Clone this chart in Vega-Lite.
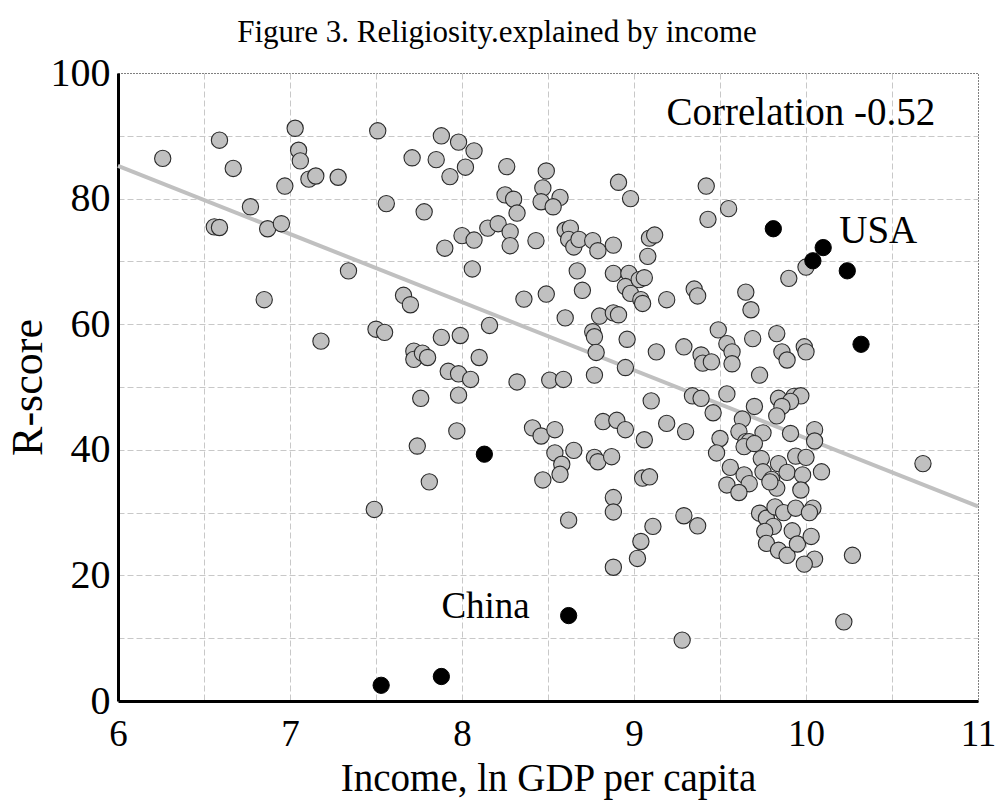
{
  "$schema": "https://vega.github.io/schema/vega-lite/v6.json",
  "width": 860,
  "height": 628,
  "autosize": "none",
  "padding": {"left": 118, "top": 73, "right": 17, "bottom": 99},
  "background": "white",
  "title": {
    "text": "Figure 3. Religiosity.explained by income",
    "font": "Liberation Serif",
    "fontSize": 31,
    "fontWeight": "normal",
    "color": "black",
    "anchor": "middle",
    "frame": "group",
    "dx": -51,
    "offset": 4
  },
  "config": {
    "font": "Liberation Serif",
    "view": {"stroke": "black", "strokeDash": [1, 2], "strokeWidth": 1}
  },
  "datasets": {
    "pts": [
      {"x": 6.26, "y": 86.4, "g": "gray"}, {"x": 6.59, "y": 89.3, "g": "gray"}, {"x": 6.67, "y": 84.8, "g": "gray"},
      {"x": 7.03, "y": 91.2, "g": "gray"}, {"x": 7.05, "y": 87.7, "g": "gray"}, {"x": 7.06, "y": 86.0, "g": "gray"},
      {"x": 7.11, "y": 83.1, "g": "gray"}, {"x": 7.15, "y": 83.6, "g": "gray"}, {"x": 7.28, "y": 83.4, "g": "gray"},
      {"x": 6.97, "y": 82.0, "g": "gray"}, {"x": 6.77, "y": 78.7, "g": "gray"}, {"x": 6.56, "y": 75.5, "g": "gray"},
      {"x": 6.59, "y": 75.4, "g": "gray"}, {"x": 6.87, "y": 75.2, "g": "gray"}, {"x": 6.95, "y": 76.0, "g": "gray"},
      {"x": 7.34, "y": 68.5, "g": "gray"}, {"x": 6.85, "y": 63.9, "g": "gray"}, {"x": 7.18, "y": 57.3, "g": "gray"},
      {"x": 7.51, "y": 90.8, "g": "gray"}, {"x": 7.56, "y": 79.2, "g": "gray"}, {"x": 7.71, "y": 86.5, "g": "gray"},
      {"x": 7.78, "y": 77.9, "g": "gray"}, {"x": 7.88, "y": 90.0, "g": "gray"}, {"x": 7.98, "y": 89.0, "g": "gray"},
      {"x": 8.07, "y": 87.6, "g": "gray"}, {"x": 7.85, "y": 86.2, "g": "gray"}, {"x": 7.93, "y": 83.5, "g": "gray"},
      {"x": 8.02, "y": 85.0, "g": "gray"}, {"x": 8.26, "y": 85.1, "g": "gray"}, {"x": 8.49, "y": 84.4, "g": "gray"},
      {"x": 8.47, "y": 81.7, "g": "gray"}, {"x": 8.46, "y": 79.5, "g": "gray"}, {"x": 8.25, "y": 80.6, "g": "gray"},
      {"x": 8.30, "y": 79.9, "g": "gray"}, {"x": 8.32, "y": 77.7, "g": "gray"}, {"x": 8.00, "y": 74.1, "g": "gray"},
      {"x": 8.07, "y": 73.4, "g": "gray"}, {"x": 8.15, "y": 75.3, "g": "gray"}, {"x": 8.21, "y": 76.0, "g": "gray"},
      {"x": 8.28, "y": 74.7, "g": "gray"}, {"x": 8.28, "y": 72.5, "g": "gray"}, {"x": 8.43, "y": 73.3, "g": "gray"},
      {"x": 7.90, "y": 72.1, "g": "gray"}, {"x": 8.06, "y": 68.8, "g": "gray"}, {"x": 8.36, "y": 64.0, "g": "gray"},
      {"x": 8.49, "y": 64.8, "g": "gray"}, {"x": 7.66, "y": 64.6, "g": "gray"}, {"x": 7.70, "y": 63.1, "g": "gray"},
      {"x": 7.50, "y": 59.2, "g": "gray"}, {"x": 7.55, "y": 58.7, "g": "gray"}, {"x": 7.88, "y": 57.9, "g": "gray"},
      {"x": 7.99, "y": 58.2, "g": "gray"}, {"x": 8.16, "y": 59.8, "g": "gray"}, {"x": 7.72, "y": 55.7, "g": "gray"},
      {"x": 7.72, "y": 54.4, "g": "gray"}, {"x": 7.77, "y": 55.4, "g": "gray"}, {"x": 7.80, "y": 54.7, "g": "gray"},
      {"x": 8.10, "y": 54.7, "g": "gray"}, {"x": 7.92, "y": 52.5, "g": "gray"}, {"x": 7.98, "y": 52.1, "g": "gray"},
      {"x": 8.05, "y": 51.2, "g": "gray"}, {"x": 8.32, "y": 50.8, "g": "gray"}, {"x": 8.51, "y": 51.1, "g": "gray"},
      {"x": 7.76, "y": 48.2, "g": "gray"}, {"x": 7.98, "y": 48.7, "g": "gray"}, {"x": 7.97, "y": 43.0, "g": "gray"},
      {"x": 7.74, "y": 40.6, "g": "gray"}, {"x": 7.81, "y": 34.9, "g": "gray"}, {"x": 7.49, "y": 30.5, "g": "gray"},
      {"x": 8.41, "y": 43.5, "g": "gray"}, {"x": 8.46, "y": 42.2, "g": "gray"}, {"x": 8.54, "y": 39.5, "g": "gray"},
      {"x": 8.47, "y": 35.2, "g": "gray"},
      {"x": 8.57, "y": 80.2, "g": "gray"}, {"x": 8.53, "y": 78.7, "g": "gray"}, {"x": 8.91, "y": 82.6, "g": "gray"},
      {"x": 8.98, "y": 80.0, "g": "gray"}, {"x": 9.42, "y": 82.0, "g": "gray"}, {"x": 9.43, "y": 76.7, "g": "gray"},
      {"x": 9.55, "y": 78.4, "g": "gray"}, {"x": 10.00, "y": 69.1, "g": "gray"}, {"x": 9.90, "y": 67.3, "g": "gray"},
      {"x": 8.60, "y": 75.0, "g": "gray"}, {"x": 8.63, "y": 75.3, "g": "gray"}, {"x": 8.62, "y": 73.5, "g": "gray"},
      {"x": 8.65, "y": 72.3, "g": "gray"}, {"x": 8.68, "y": 73.5, "g": "gray"}, {"x": 8.76, "y": 73.3, "g": "gray"},
      {"x": 8.79, "y": 71.7, "g": "gray"}, {"x": 8.88, "y": 72.6, "g": "gray"}, {"x": 9.09, "y": 73.7, "g": "gray"},
      {"x": 9.12, "y": 74.2, "g": "gray"}, {"x": 9.08, "y": 70.8, "g": "gray"}, {"x": 8.67, "y": 68.5, "g": "gray"},
      {"x": 8.88, "y": 68.1, "g": "gray"}, {"x": 8.97, "y": 68.1, "g": "gray"}, {"x": 8.95, "y": 66.0, "g": "gray"},
      {"x": 9.03, "y": 67.1, "g": "gray"}, {"x": 9.06, "y": 67.4, "g": "gray"}, {"x": 8.98, "y": 64.9, "g": "gray"},
      {"x": 9.04, "y": 63.9, "g": "gray"}, {"x": 9.05, "y": 63.3, "g": "gray"}, {"x": 9.19, "y": 63.9, "g": "gray"},
      {"x": 9.35, "y": 65.6, "g": "gray"}, {"x": 9.37, "y": 64.5, "g": "gray"}, {"x": 9.65, "y": 65.1, "g": "gray"},
      {"x": 9.68, "y": 62.3, "g": "gray"}, {"x": 8.70, "y": 65.4, "g": "gray"}, {"x": 8.60, "y": 61.0, "g": "gray"},
      {"x": 8.80, "y": 61.3, "g": "gray"}, {"x": 8.88, "y": 61.8, "g": "gray"}, {"x": 8.91, "y": 61.5, "g": "gray"},
      {"x": 8.76, "y": 58.8, "g": "gray"}, {"x": 8.77, "y": 58.0, "g": "gray"}, {"x": 8.78, "y": 55.5, "g": "gray"},
      {"x": 8.96, "y": 57.6, "g": "gray"}, {"x": 8.95, "y": 53.1, "g": "gray"}, {"x": 9.13, "y": 55.6, "g": "gray"},
      {"x": 9.29, "y": 56.4, "g": "gray"}, {"x": 9.49, "y": 59.1, "g": "gray"}, {"x": 9.54, "y": 56.9, "g": "gray"},
      {"x": 9.57, "y": 55.6, "g": "gray"}, {"x": 9.57, "y": 53.7, "g": "gray"}, {"x": 9.39, "y": 55.1, "g": "gray"},
      {"x": 9.40, "y": 53.8, "g": "gray"}, {"x": 9.45, "y": 54.0, "g": "gray"}, {"x": 9.69, "y": 57.7, "g": "gray"},
      {"x": 9.83, "y": 58.5, "g": "gray"}, {"x": 9.86, "y": 55.6, "g": "gray"}, {"x": 9.89, "y": 54.3, "g": "gray"},
      {"x": 9.99, "y": 56.4, "g": "gray"}, {"x": 10.00, "y": 55.6, "g": "gray"}, {"x": 8.59, "y": 51.2, "g": "gray"},
      {"x": 8.77, "y": 51.9, "g": "gray"}, {"x": 9.73, "y": 51.9, "g": "gray"},
      {"x": 9.10, "y": 47.8, "g": "gray"}, {"x": 9.34, "y": 48.6, "g": "gray"}, {"x": 9.39, "y": 48.2, "g": "gray"},
      {"x": 9.54, "y": 48.9, "g": "gray"}, {"x": 9.46, "y": 45.9, "g": "gray"}, {"x": 9.70, "y": 46.9, "g": "gray"},
      {"x": 9.63, "y": 44.9, "g": "gray"}, {"x": 9.61, "y": 42.9, "g": "gray"}, {"x": 9.84, "y": 48.2, "g": "gray"},
      {"x": 9.93, "y": 48.5, "g": "gray"}, {"x": 9.97, "y": 48.6, "g": "gray"}, {"x": 9.91, "y": 47.7, "g": "gray"},
      {"x": 9.86, "y": 46.9, "g": "gray"}, {"x": 9.83, "y": 45.4, "g": "gray"}, {"x": 9.75, "y": 42.7, "g": "gray"},
      {"x": 9.91, "y": 42.6, "g": "gray"}, {"x": 10.05, "y": 43.2, "g": "gray"}, {"x": 10.05, "y": 41.4, "g": "gray"},
      {"x": 9.50, "y": 41.8, "g": "gray"}, {"x": 9.48, "y": 39.5, "g": "gray"}, {"x": 9.65, "y": 41.3, "g": "gray"},
      {"x": 9.67, "y": 41.3, "g": "gray"}, {"x": 9.64, "y": 40.5, "g": "gray"}, {"x": 9.70, "y": 41.0, "g": "gray"},
      {"x": 8.82, "y": 44.5, "g": "gray"}, {"x": 8.90, "y": 44.7, "g": "gray"}, {"x": 8.95, "y": 43.2, "g": "gray"},
      {"x": 8.54, "y": 43.2, "g": "gray"}, {"x": 9.06, "y": 41.6, "g": "gray"}, {"x": 9.19, "y": 44.2, "g": "gray"},
      {"x": 9.30, "y": 42.9, "g": "gray"}, {"x": 8.65, "y": 39.9, "g": "gray"}, {"x": 8.58, "y": 37.7, "g": "gray"},
      {"x": 8.57, "y": 36.1, "g": "gray"}, {"x": 8.77, "y": 38.8, "g": "gray"}, {"x": 8.79, "y": 38.1, "g": "gray"},
      {"x": 8.87, "y": 38.9, "g": "gray"}, {"x": 9.05, "y": 35.5, "g": "gray"}, {"x": 9.09, "y": 35.7, "g": "gray"},
      {"x": 8.88, "y": 32.4, "g": "gray"}, {"x": 8.88, "y": 30.1, "g": "gray"}, {"x": 8.62, "y": 28.8, "g": "gray"},
      {"x": 9.11, "y": 27.8, "g": "gray"}, {"x": 9.04, "y": 25.4, "g": "gray"}, {"x": 9.02, "y": 22.7, "g": "gray"},
      {"x": 8.88, "y": 21.3, "g": "gray"}, {"x": 9.29, "y": 29.5, "g": "gray"}, {"x": 9.37, "y": 27.9, "g": "gray"},
      {"x": 9.28, "y": 9.7, "g": "gray"}, {"x": 10.22, "y": 12.6, "g": "gray"}, {"x": 10.68, "y": 37.8, "g": "gray"},
      {"x": 10.27, "y": 23.2, "g": "gray"}, {"x": 9.56, "y": 37.2, "g": "gray"}, {"x": 9.64, "y": 36.0, "g": "gray"},
      {"x": 9.67, "y": 34.6, "g": "gray"}, {"x": 9.54, "y": 34.4, "g": "gray"}, {"x": 9.61, "y": 33.2, "g": "gray"},
      {"x": 9.74, "y": 38.6, "g": "gray"}, {"x": 9.84, "y": 37.8, "g": "gray"}, {"x": 9.75, "y": 36.5, "g": "gray"},
      {"x": 9.89, "y": 36.4, "g": "gray"}, {"x": 9.80, "y": 35.3, "g": "gray"}, {"x": 9.83, "y": 33.9, "g": "gray"},
      {"x": 9.79, "y": 34.9, "g": "gray"}, {"x": 9.94, "y": 39.0, "g": "gray"}, {"x": 10.00, "y": 38.8, "g": "gray"},
      {"x": 9.98, "y": 36.0, "g": "gray"}, {"x": 10.09, "y": 36.5, "g": "gray"}, {"x": 9.97, "y": 33.6, "g": "gray"},
      {"x": 9.73, "y": 29.9, "g": "gray"}, {"x": 9.77, "y": 29.1, "g": "gray"}, {"x": 9.81, "y": 27.8, "g": "gray"},
      {"x": 9.76, "y": 27.0, "g": "gray"}, {"x": 9.77, "y": 25.1, "g": "gray"}, {"x": 9.84, "y": 24.0, "g": "gray"},
      {"x": 9.89, "y": 23.2, "g": "gray"}, {"x": 9.82, "y": 30.9, "g": "gray"}, {"x": 9.87, "y": 30.0, "g": "gray"},
      {"x": 9.94, "y": 30.7, "g": "gray"}, {"x": 9.92, "y": 27.1, "g": "gray"}, {"x": 9.95, "y": 25.0, "g": "gray"},
      {"x": 10.04, "y": 30.7, "g": "gray"}, {"x": 10.02, "y": 30.0, "g": "gray"}, {"x": 10.03, "y": 26.2, "g": "gray"},
      {"x": 10.05, "y": 22.6, "g": "gray"}, {"x": 9.99, "y": 21.8, "g": "gray"},
      {"x": 7.53, "y": 2.5, "g": "black"}, {"x": 7.88, "y": 3.9, "g": "black"}, {"x": 8.13, "y": 39.3, "g": "black"},
      {"x": 8.62, "y": 13.6, "g": "black"}, {"x": 9.81, "y": 75.2, "g": "black"}, {"x": 10.10, "y": 72.2, "g": "black"},
      {"x": 10.04, "y": 70.1, "g": "black"}, {"x": 10.24, "y": 68.5, "g": "black"}, {"x": 10.32, "y": 56.8, "g": "black"}
    ],
    "trend": [{"x": 6, "y": 85.2}, {"x": 11, "y": 31.0}],
    "notes": [
      {"x": 9.97, "y": 91.7, "label": "Correlation -0.52", "s": "big"},
      {"x": 10.42, "y": 73.0, "label": "USA", "s": "big"},
      {"x": 8.137, "y": 13.2, "label": "China", "s": "mid"}
    ]
  },
  "encoding": {
    "x": {
      "field": "x",
      "type": "quantitative",
      "scale": {"domain": [6, 11], "nice": false, "zero": false},
      "axis": {
        "title": "Income, ln GDP per capita",
        "values": [6, 6.5, 7, 7.5, 8, 8.5, 9, 9.5, 10, 10.5, 11],
        "labelExpr": "datum.value % 1 === 0 ? format(datum.value, 'd') : ''",
        "grid": true,
        "gridColor": {"condition": {"test": "datum.value === 11 || datum.value === 6", "value": "transparent"}, "value": "#c8c8c8"},
        "gridDash": [6, 3],
        "gridWidth": 1,
        "ticks": false,
        "domain": true,
        "domainColor": "black",
        "domainWidth": 3,
        "labelFont": "Liberation Serif",
        "labelFontSize": 37,
        "labelColor": "black",
        "labelPadding": 15,
        "labelFlush": false,
        "labelOverlap": false,
        "titleFont": "Liberation Serif",
        "titleFontSize": 39,
        "titleFontWeight": "normal",
        "titleColor": "black",
        "titlePadding": 7
      }
    },
    "y": {
      "field": "y",
      "type": "quantitative",
      "scale": {"domain": [0, 100], "nice": false, "zero": true},
      "axis": {
        "title": "R-score",
        "values": [0, 10, 20, 30, 40, 50, 60, 70, 80, 90, 100],
        "labelExpr": "datum.value % 20 === 0 ? format(datum.value, 'd') : ''",
        "grid": true,
        "gridColor": {"condition": {"test": "datum.value === 100 || datum.value === 0", "value": "transparent"}, "value": "#c8c8c8"},
        "gridDash": [6, 3],
        "gridWidth": 1,
        "ticks": false,
        "domain": true,
        "domainColor": "black",
        "domainWidth": 3,
        "labelFont": "Liberation Serif",
        "labelFontSize": 40,
        "labelColor": "black",
        "labelPadding": 8,
        "labelOverlap": false,
        "labelFlush": false,
        "titleFont": "Liberation Serif",
        "titleFontSize": 44,
        "titleFontWeight": "normal",
        "titleColor": "black",
        "titlePadding": 0
      }
    }
  },
  "layer": [
    {
      "data": {"name": "trend"},
      "mark": {"type": "line", "color": "#c0c0c0", "strokeWidth": 4}
    },
    {
      "data": {"name": "pts"},
      "transform": [{"filter": "datum.g === 'gray'"}],
      "mark": {"type": "point", "shape": "circle", "filled": true, "fill": "#c0c0c0", "stroke": "#2a2a2a", "strokeWidth": 1.1, "size": 265, "opacity": 1}
    },
    {
      "data": {"name": "pts"},
      "transform": [{"filter": "datum.g === 'black'"}],
      "mark": {"type": "point", "shape": "circle", "filled": true, "fill": "black", "stroke": "black", "strokeWidth": 1, "size": 265, "opacity": 1}
    },
    {
      "data": {"name": "notes"},
      "mark": {"type": "text", "font": "Liberation Serif", "fontSize": 39, "color": "black", "align": "center", "baseline": "alphabetic"},
      "encoding": {
        "text": {"field": "label"},
        "size": {"field": "s", "type": "nominal", "scale": {"domain": ["big", "mid"], "range": [39, 37]}, "legend": null}
      }
    }
  ]
}
